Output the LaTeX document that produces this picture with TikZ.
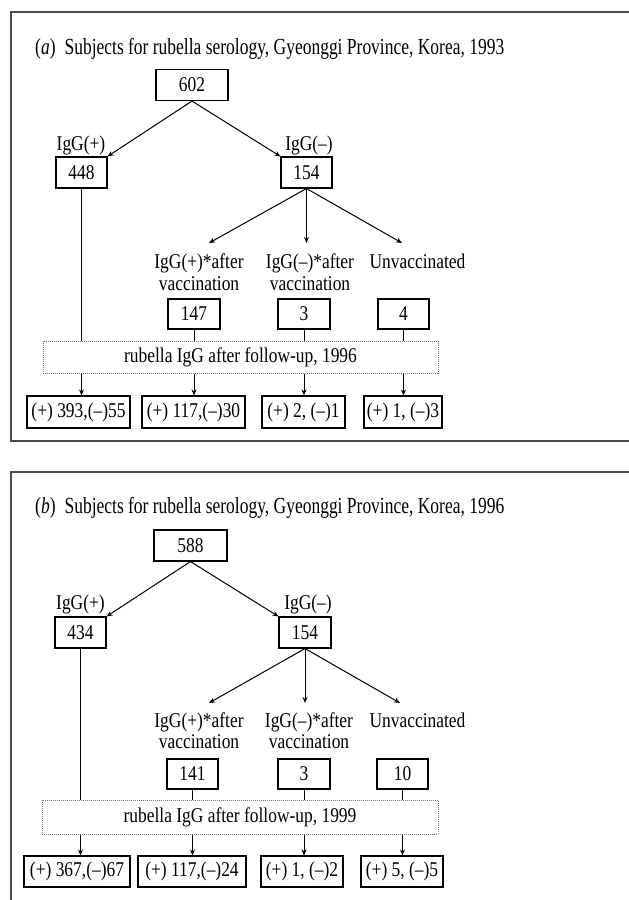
\documentclass[tikz,border=0pt]{standalone}
\usepackage{fontspec}
\setmainfont{Liberation Serif}[FakeStretch=0.83]
\newfontfamily\ttlfont{Liberation Serif}[FakeStretch=0.76]
\usetikzlibrary{arrows.meta}
\begin{document}
\begin{tikzpicture}[x=1pt,y=-1pt,
  every node/.style={inner sep=0pt, font=\fontsize{21}{22}\selectfont},
  numbox/.style={draw=black, line width=1.1pt, minimum height=31pt},
  fubox/.style={draw=black!55, densely dotted, line width=1pt},
  frame/.style={draw=black!70, line width=1.2pt},
  conn/.style={line width=1pt},
  arr/.style={conn, -{Stealth[length=6pt,width=5pt]}},
  ttl/.style={anchor=base west, font=\ttlfont\fontsize{23}{25}\selectfont},
  lab/.style={anchor=base}
]
\clip (0,0) rectangle (629,900);
\fill[white] (0,0) rectangle (629,900);

% ---------------- panel (a) ----------------
\draw[frame] (11,12) rectangle (680,441);
\node[ttl] (a-title) at (35,54) {(\textit{a})\hspace{9pt}Subjects for rubella serology, Gyeonggi Province, Korea, 1993};
\node[numbox, minimum width=72pt] (a-top) at (192,85) {602};
\node[lab] (a-lp) at (81,150) {IgG(+)};
\node[numbox, minimum width=51pt] (a-pos) at (81.5,172.5) {448};
\node[lab] (a-ln) at (309,150) {IgG(–)};
\node[numbox, minimum width=51pt] (a-neg) at (306.5,172.5) {154};
\draw[arr] (a-top.south) -- (a-pos.north east);
\draw[arr] (a-top.south) -- (a-neg.north west);
\coordinate (a-t1) at (209,243);
\coordinate (a-t2) at (306.5,243);
\coordinate (a-t3) at (402,243);
\draw[arr] (a-neg.south) -- (a-t1);
\draw[arr] (a-neg.south) -- (a-t2);
\draw[arr] (a-neg.south) -- (a-t3);
\node[lab] (a-l1a) at (199,268) {IgG(+)*after};
\node[lab] (a-l1b) at (199,290) {vaccination};
\node[lab] (a-l2a) at (310,268) {IgG(–)*after};
\node[lab] (a-l2b) at (310,290) {vaccination};
\node[lab] (a-l3) at (417.5,268) {Unvaccinated};
\node[numbox, minimum width=52pt, minimum height=30pt] (a-v1) at (194,314) {147};
\node[numbox, minimum width=52pt, minimum height=30pt] (a-v2) at (304,314) {3};
\node[numbox, minimum width=51pt, minimum height=30pt] (a-v3) at (403.5,314) {4};
\node[fubox, minimum width=395pt, minimum height=32pt] (a-fu) at (240.5,357) {rubella IgG after follow-up, 1996};
\node[numbox, minimum width=103pt, minimum height=32pt] (a-r1) at (78.5,412) {(+) 393,(–)55};
\node[numbox, minimum width=103pt, minimum height=32pt] (a-r2) at (193.5,412) {(+) 117,(–)30};
\node[numbox, minimum width=83pt, minimum height=32pt] (a-r3) at (303.5,412) {(+) 2, (–)1};
\node[numbox, minimum width=78pt, minimum height=32pt] (a-r4) at (403,412) {(+) 1, (–)3};
\draw[conn] (a-pos.south) -- (a-pos.south |- a-fu.north);
\draw[conn] (a-v1.south) -- (a-v1.south |- a-fu.north);
\draw[conn] (a-v2.south) -- (a-v2.south |- a-fu.north);
\draw[conn] (a-v3.south) -- (a-v3.south |- a-fu.north);
\draw[arr] (a-pos.south |- a-fu.south) -- (a-pos.south |- a-r1.north);
\draw[arr] (a-v1.south |- a-fu.south) -- (a-v1.south |- a-r2.north);
\draw[arr] (a-v2.south |- a-fu.south) -- (a-v2.south |- a-r3.north);
\draw[arr] (a-v3.south |- a-fu.south) -- (a-v3.south |- a-r4.north);

% ---------------- panel (b) ----------------
\begin{scope}[yshift=-460pt]
\draw[frame] (11,12) rectangle (680,500);
\node[ttl] (b-title) at (35,53) {(\textit{b})\hspace{9pt}Subjects for rubella serology, Gyeonggi Province, Korea, 1996};
\node[numbox, minimum width=73pt] (b-top) at (190.5,85.5) {588};
\node[lab] (b-lp) at (80.5,149) {IgG(+)};
\node[numbox, minimum width=51pt] (b-pos) at (80.5,172.5) {434};
\node[lab] (b-ln) at (308,149) {IgG(–)};
\node[numbox, minimum width=52pt] (b-neg) at (305,172.5) {154};
\draw[arr] (b-top.south) -- (b-pos.north east);
\draw[arr] (b-top.south) -- (b-neg.north west);
\coordinate (b-t1) at (209,243);
\coordinate (b-t2) at (305,243);
\coordinate (b-t3) at (400,243);
\draw[arr] (b-neg.south) -- (b-t1);
\draw[arr] (b-neg.south) -- (b-t2);
\draw[arr] (b-neg.south) -- (b-t3);
\node[lab] (b-l1a) at (199,267) {IgG(+)*after};
\node[lab] (b-l1b) at (199,288) {vaccination};
\node[lab] (b-l2a) at (309,267) {IgG(–)*after};
\node[lab] (b-l2b) at (309,288) {vaccination};
\node[lab] (b-l3) at (417.5,267) {Unvaccinated};
\node[numbox, minimum width=51pt, minimum height=30pt] (b-v1) at (192.5,314) {141};
\node[numbox, minimum width=52pt, minimum height=30pt] (b-v2) at (304,314) {3};
\node[numbox, minimum width=51pt, minimum height=30pt] (b-v3) at (402.5,314) {10};
\node[fubox, minimum width=396pt, minimum height=34pt] (b-fu) at (240,357) {rubella IgG after follow-up, 1999};
\node[numbox, minimum width=106pt, minimum height=31pt] (b-r1) at (77,411.5) {(+) 367,(–)67};
\node[numbox, minimum width=108pt, minimum height=31pt] (b-r2) at (192,411.5) {(+) 117,(–)24};
\node[numbox, minimum width=82pt, minimum height=31pt] (b-r3) at (302,411.5) {(+) 1, (–)2};
\node[numbox, minimum width=82pt, minimum height=31pt] (b-r4) at (402,411.5) {(+) 5, (–)5};
\draw[conn] (b-pos.south) -- (b-pos.south |- b-fu.north);
\draw[conn] (b-v1.south) -- (b-v1.south |- b-fu.north);
\draw[conn] (b-v2.south) -- (b-v2.south |- b-fu.north);
\draw[conn] (b-v3.south) -- (b-v3.south |- b-fu.north);
\draw[arr] (b-pos.south |- b-fu.south) -- (b-pos.south |- b-r1.north);
\draw[arr] (b-v1.south |- b-fu.south) -- (b-v1.south |- b-r2.north);
\draw[arr] (b-v2.south |- b-fu.south) -- (b-v2.south |- b-r3.north);
\draw[arr] (b-v3.south |- b-fu.south) -- (b-v3.south |- b-r4.north);
\end{scope}
\end{tikzpicture}
\end{document}
